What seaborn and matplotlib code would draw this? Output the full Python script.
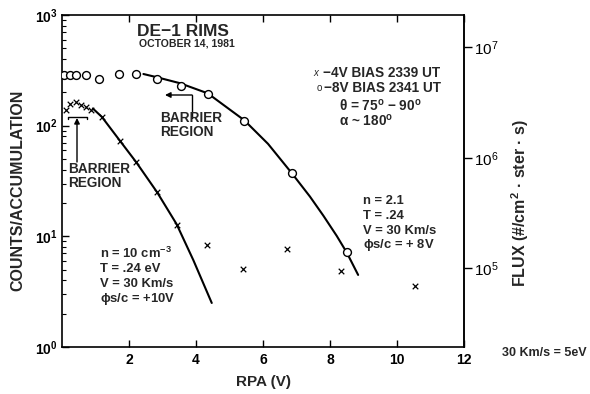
import numpy as np
import pandas as pd
import seaborn as sns
import matplotlib
matplotlib.use("Agg")
import matplotlib.pyplot as plt
from matplotlib.lines import Line2D
from matplotlib.ticker import NullLocator, FixedLocator

# ---- data ----
rpa_x4 = [0.12, 0.24, 0.42, 0.57, 0.72, 0.87, 1.19, 1.73, 2.21, 2.84, 3.43, 4.33, 5.40, 6.72, 8.33, 10.54]
counts_x4 = [139, 158, 164, 154, 148, 139, 120, 73, 47, 25.2, 12.7, 8.4, 5.07, 7.7, 4.87, 3.56]

rpa_o8 = [0.06, 0.24, 0.42, 0.71, 1.10, 1.70, 2.20, 2.83, 3.55, 4.36, 5.43, 6.87, 8.50]
counts_o8 = [287, 287, 287, 285, 264, 293, 292, 264, 228, 193, 110, 37, 7.2]

fit_x4_rpa = [0.92, 1.19, 1.73, 2.21, 2.84, 3.42, 3.92, 4.47]
fit_x4_counts = [143, 120, 73, 47, 25.0, 12.9, 6.1, 2.5]

fit_o8_rpa = [2.43, 2.81, 3.52, 4.35, 5.44, 6.15, 6.86, 7.40, 7.80, 8.20, 8.50, 8.84]
fit_o8_counts = [293, 275, 242, 196, 112, 68.5, 37.2, 22.9, 15.4, 10.1, 7.14, 4.48]

x_ticks = [2, 4, 6, 8, 10, 12]
flux_ticks = [1e5, 1e6, 1e7]
flux_offset = 10 ** 4.29

sns.set_theme(style="ticks")
plt.rcParams["font.family"] = ["Liberation Sans", "DejaVu Sans"]
plt.rcParams["font.weight"] = "bold"
plt.rcParams["mathtext.default"] = "regular"

W, H = 590, 394
fig = plt.figure(figsize=(W / 100, H / 100), dpi=100)
ax = fig.add_axes([62 / W, 1 - 347 / H, (464 - 62) / W, (347 - 15) / H])


def fp(x, y):
    return (x / W, 1 - y / H)


df_x = pd.DataFrame({"rpa": rpa_x4, "counts": counts_x4})
df_o = pd.DataFrame({"rpa": rpa_o8, "counts": counts_o8})
df_fx = pd.DataFrame({"rpa": fit_x4_rpa, "counts": fit_x4_counts})
df_fo = pd.DataFrame({"rpa": fit_o8_rpa, "counts": fit_o8_counts})

sns.lineplot(data=df_fx, x="rpa", y="counts", sort=False, color="black", lw=1.5, ax=ax)
sns.lineplot(data=df_fo, x="rpa", y="counts", sort=False, color="black", lw=1.5, ax=ax)
sns.scatterplot(data=df_x, x="rpa", y="counts", marker="x", s=16, color="black",
                linewidth=0.9, ax=ax, zorder=3)
sns.scatterplot(data=df_o, x="rpa", y="counts", marker="o", s=32, facecolor="white",
                edgecolor="black", linewidth=1.0, ax=ax, zorder=3)

ax.set_yscale("log")
ax.set_xlim(0, 12)
ax.set_ylim(1, 1000)
ax.set_xticks(x_ticks)
ax.set_xticklabels([str(t) for t in x_ticks])
ax.set_xlabel("")
ax.set_ylabel("")
for s in ax.spines.values():
    s.set_color("black")
    s.set_linewidth(1.2)
ax.tick_params(axis="x", which="both", direction="in", top=True, length=5, width=1,
               labelsize=10, pad=4, colors="black")
ax.tick_params(axis="y", which="major", direction="in", length=5, width=1,
               labelsize=10, pad=3, colors="black")
ax.tick_params(axis="y", which="minor", direction="in", length=3, width=0.8, colors="black")
for lab in ax.get_xticklabels() + ax.get_yticklabels():
    lab.set_fontweight("bold")

sec = ax.secondary_yaxis("right", functions=(lambda c: c * flux_offset, lambda f: f / flux_offset))
sec.set_yscale("log")
sec.yaxis.set_major_locator(FixedLocator(flux_ticks))
sec.yaxis.set_minor_locator(NullLocator())
sec.tick_params(axis="y", direction="out", length=6, width=1, labelsize=11, pad=1, colors="black")
sec.spines["right"].set_linewidth(1.2)
for lab in sec.get_yticklabels():
    lab.set_fontweight("normal")

# ---- texts ----
fig.text(*fp(137, 31), "DE\u22121 RIMS", fontsize=12.5, fontweight="bold", va="center", ha="left")
fig.text(*fp(139, 44), "OCTOBER 14, 1981", fontsize=7.6, fontweight="bold", va="center", ha="left")

fig.text(*fp(316, 73), "x", fontsize=7, style="italic", fontweight="normal", va="center", ha="center")
fig.text(*fp(323, 73), "\u22124V BIAS 2339 UT", fontsize=9.8, fontweight="bold", va="center")
fig.text(*fp(319, 88), "o", fontsize=7, fontweight="normal", va="center", ha="center")
fig.text(*fp(324, 88), "\u22128V BIAS 2341 UT", fontsize=9.8, fontweight="bold", va="center")
fig.text(*fp(339, 106), "$\\theta$ = 75$^{o}$ \u2212 90$^{o}$",
         fontsize=9.8, fontweight="bold", va="center")
fig.text(*fp(339, 121), r"$\alpha$ ~ 180$^{o}$", fontsize=9.8, fontweight="bold", va="center")

fig.text(*fp(160, 125), "BARRIER\nREGION", fontsize=9.8, fontweight="bold", va="center",
         ha="left", linespacing=1.0)
fig.text(*fp(68, 176), "BARRIER\nREGION", fontsize=9.8, fontweight="bold", va="center",
         ha="left", linespacing=1.0)

fs_p = 9.4
fig.text(*fp(100, 253), "n = 10 cm$^{-3}$", fontsize=fs_p, fontweight="bold", va="center")
fig.text(*fp(100, 269), "T = .24 eV", fontsize=fs_p, fontweight="bold", va="center")
fig.text(*fp(100, 284), "V = 30 Km/s", fontsize=fs_p, fontweight="bold", va="center")
fig.text(*fp(100, 299), r"$\phi$s/c = +10V", fontsize=fs_p, fontweight="bold", va="center")

fig.text(*fp(363, 201), "n = 2.1", fontsize=fs_p, fontweight="bold", va="center")
fig.text(*fp(363, 216), "T = .24", fontsize=fs_p, fontweight="bold", va="center")
fig.text(*fp(363, 231), "V = 30 Km/s", fontsize=fs_p, fontweight="bold", va="center")
fig.text(*fp(363, 245), r"$\phi$s/c = + 8V", fontsize=fs_p, fontweight="bold", va="center")

fig.text(*fp(502, 353), "30 Km/s = 5eV", fontsize=9, fontweight="bold", va="center")

fig.text(*fp(263, 382), "RPA (V)", fontsize=11, fontweight="bold", va="center", ha="center")
fig.text(*fp(18, 190), "COUNTS/ACCUMULATION", fontsize=11.5, fontweight="bold",
         rotation=90, va="center", ha="center")
fig.text(*fp(520, 203), "FLUX (#/cm$^{2}$ \u00b7 ster \u00b7 s)", fontsize=11.5,
         fontweight="bold", rotation=90, va="center", ha="center")

# ---- barrier arrows ----
lk = dict(color="black", lw=1.0, transform=fig.transFigure)
# right barrier: vertical then leftward arrow
fig.add_artist(Line2D(*zip(fp(192, 118), fp(192, 95)), **lk))
ax.annotate("", xy=fp(165, 95), xytext=fp(192, 95), xycoords="figure fraction",
            textcoords="figure fraction",
            arrowprops=dict(arrowstyle="-|>", color="black", lw=1.0, mutation_scale=8,
                            shrinkA=0, shrinkB=0))
# left barrier: bracket + upward arrow
fig.add_artist(Line2D(*zip(fp(68, 119), fp(68, 117), fp(87, 117), fp(87, 119)), **lk))
ax.annotate("", xy=fp(77, 118), xytext=fp(77, 162), xycoords="figure fraction",
            textcoords="figure fraction",
            arrowprops=dict(arrowstyle="-|>", color="black", lw=1.0, mutation_scale=8,
                            shrinkA=0, shrinkB=0))

fig.savefig("out.png", dpi=100, facecolor="white")
